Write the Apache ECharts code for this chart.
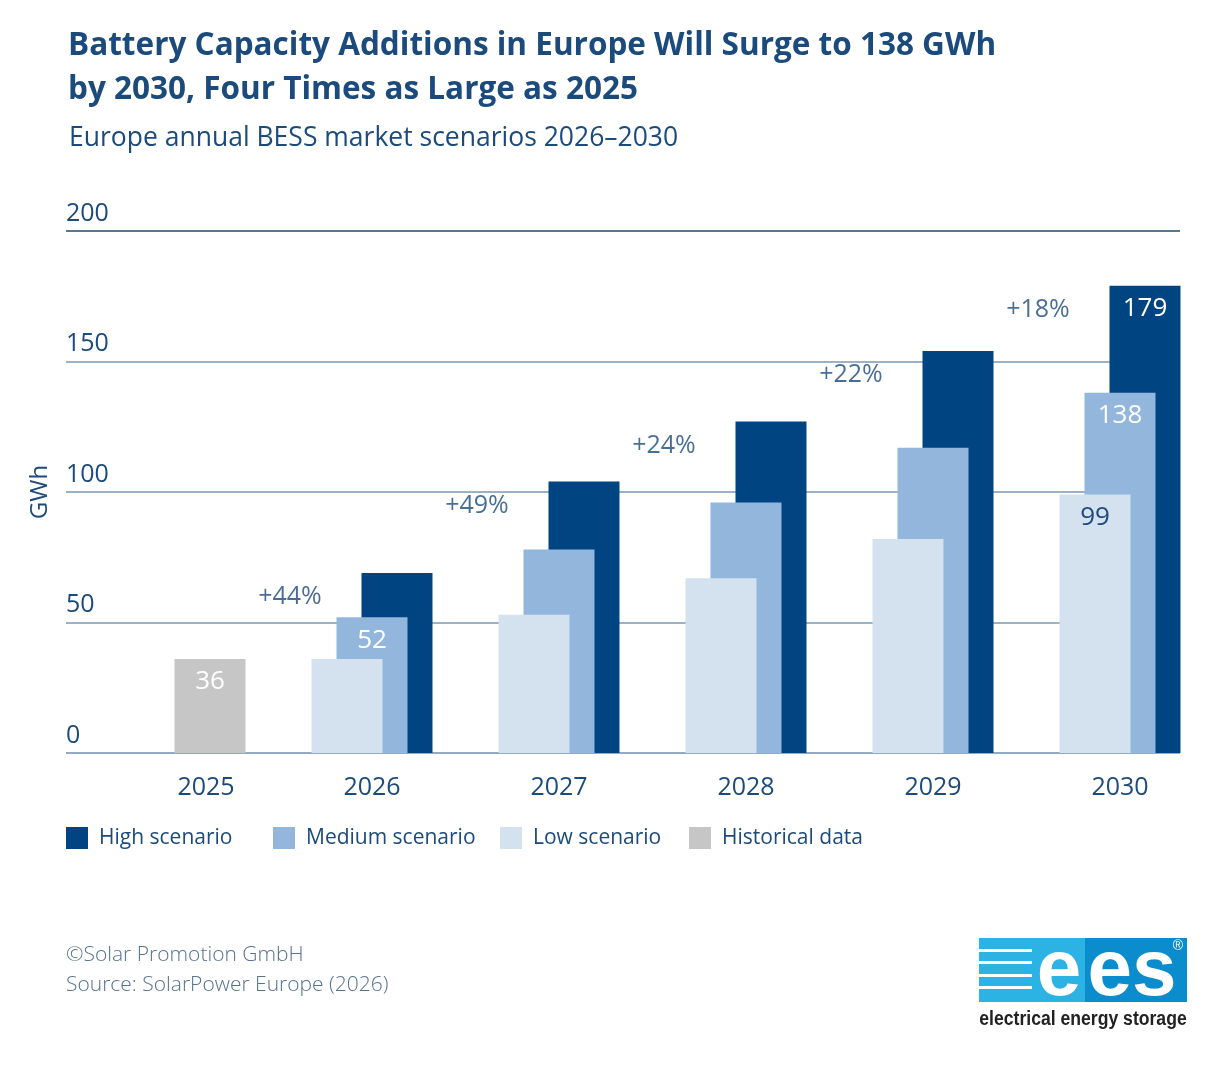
<!DOCTYPE html>
<html lang="en">
<head>
<meta charset="utf-8">
<title>Europe annual BESS market scenarios</title>
<script src="https://cdn.jsdelivr.net/npm/echarts@6/dist/echarts.min.js"></script>
<style>
  html, body { margin: 0; padding: 0; background: #fff; }
  #chart { width: 1227px; height: 1071px; }
</style>
</head>
<body>
<div id="chart"></div>
<script>
// values (GWh)
var years      = ['2025', '2026', '2027', '2028', '2029', '2030'];
var historical = [36, '-', '-', '-', '-', '-'];
var high       = ['-', 69, 104, 127, 154, 179];
var medium     = ['-', 52, 78, 96, 117, 138];
var low        = ['-', 36, 53, 67, 82, 99];
var growth     = ['', '+44%', '+49%', '+24%', '+22%', '+18%'];
var legendNames = ['High scenario', 'Medium scenario', 'Low scenario', 'Historical data'];

// which bars carry a value label
var shownHigh = [5], shownMedium = [1, 5], shownLow = [5], shownHist = [0];

var FONT = '"Open Sans", "Noto Sans", sans-serif';
var NAVY = '#1b4a7c';
var legendLeft = [66, 273, 500, 689];

function barLabel(shown, color) {
    return {
        show: true,
        position: 'insideTop',
        distance: 10,
        color: color,
        fontFamily: FONT,
        fontSize: 26,
        formatter: function (p) {
            return shown.indexOf(p.dataIndex) >= 0 ? String(p.value) : '';
        }
    };
}

var myChart = echarts.init(document.getElementById('chart'));

var option = {
    animation: false,
    backgroundColor: '#fff',
    title: [
        {
            text: 'Battery Capacity Additions in Europe Will Surge to 138 GWh\nby 2030, Four Times as Large as 2025',
            left: 63, top: 19,
            textStyle: { fontFamily: FONT, fontWeight: 'bold', fontSize: 31.5, lineHeight: 44, color: NAVY }
        },
        {
            text: 'Europe annual BESS market scenarios 2026\u20132030',
            left: 64, top: 120,
            textStyle: { fontFamily: FONT, fontWeight: 'normal', fontSize: 26.5, color: NAVY }
        }
    ],
    // one legend per item so each sits where the original puts it
    legend: legendNames.map(function (name, i) {
        return {
            left: legendLeft[i], top: 827,
            padding: 0,
            itemWidth: 22, itemHeight: 22,
            icon: 'rect',
            data: [name],
            textStyle: { fontFamily: FONT, fontSize: 21, color: NAVY, padding: [0, 0, 0, 6] }
        };
    }),
    grid: [
        // grid for the gridlines and y labels
        { left: 66, right: 47, top: 231, bottom: 318 },
        // grid for the bars (shifted so groups sit as in the original)
        { left: 91.5, right: 13.5, top: 231, bottom: 318 }
    ],
    xAxis: [
        { type: 'category', gridIndex: 0, data: years, show: false },
        {
            type: 'category', gridIndex: 1, data: years,
            axisLine: { show: false }, axisTick: { show: false },
            axisLabel: {
                margin: 22,
                fontFamily: FONT, fontSize: 25, color: NAVY,
                formatter: function (v) {
                    return v === '2025' ? '{s|' + v + '}' : v;
                },
                rich: { s: { fontFamily: FONT, fontSize: 25, color: NAVY, padding: [0, 0, 0, 42] } }
            }
        }
    ],
    yAxis: [
        {
            type: 'value', gridIndex: 0, min: 0, max: 200, interval: 50,
            name: 'GWh', nameLocation: 'middle', nameGap: 14, nameRotate: 90,
            nameTextStyle: { fontFamily: FONT, fontSize: 24, color: NAVY },
            axisLine: { show: false }, axisTick: { show: false },
            axisLabel: {
                inside: true, margin: 0, verticalAlign: 'bottom', padding: [0, 0, 5, 0],
                fontFamily: FONT, fontSize: 25, color: NAVY
            },
            splitLine: {
                lineStyle: { width: 1.5, color: ['#6f8eae', '#7a97b5', '#7a97b5', '#7a97b5', '#1d4a78'] }
            }
        },
        { type: 'value', gridIndex: 1, min: 0, max: 200, interval: 50, show: false, splitLine: { show: false } }
    ],
    series: [
        {
            name: 'Low scenario', type: 'bar', xAxisIndex: 1, yAxisIndex: 1,
            data: low, barWidth: 71, barGap: '-64.8%', z: 4,
            itemStyle: { color: '#d4e1ef' },
            label: barLabel(shownLow, '#1f4a7a')
        },
        {
            name: 'Medium scenario', type: 'bar', xAxisIndex: 1, yAxisIndex: 1,
            data: medium, barWidth: 71, barGap: '-64.8%', z: 3,
            itemStyle: { color: '#93b6dc' },
            label: barLabel(shownMedium, '#ffffff')
        },
        {
            name: 'High scenario', type: 'bar', xAxisIndex: 1, yAxisIndex: 1, stack: 'back',
            data: high, barWidth: 71, barGap: '-64.8%', z: 2,
            itemStyle: { color: '#004582' },
            label: barLabel(shownHigh, '#ffffff')
        },
        {
            name: 'Historical data', type: 'bar', xAxisIndex: 1, yAxisIndex: 1, stack: 'back',
            data: historical, barWidth: 71, barGap: '-64.8%', z: 2,
            itemStyle: { color: '#c6c6c6' },
            label: barLabel(shownHist, '#ffffff')
        },
        {
            // growth of the medium scenario, printed beside each high bar
            name: 'growth', type: 'scatter', xAxisIndex: 1, yAxisIndex: 1,
            data: high, symbolSize: 1, z: 5,
            itemStyle: { color: 'rgba(0,0,0,0)' },
            label: {
                show: true, position: 'inside', offset: [-82, 24],
                fontFamily: FONT, fontSize: 25, color: NAVY,
                formatter: function (p) { return growth[p.dataIndex]; }
            }
        }
    ],
    graphic: [
        {
            type: 'text', left: 66, top: 945,
            style: { text: '\u00a9Solar Promotion GmbH', fontFamily: FONT, fontWeight: 300, fontSize: 21, fill: '#56728f' }
        },
        {
            type: 'text', left: 66, top: 975,
            style: { text: 'Source: SolarPower Europe (2026)', fontFamily: FONT, fontWeight: 300, fontSize: 21, fill: '#56728f' }
        },
        {
            // ees logo
            type: 'group', x: 979, y: 938,
            children: [
                { type: 'rect', shape: { x: 0, y: 0, width: 106, height: 64 }, style: { fill: '#2cb3e4' } },
                { type: 'rect', shape: { x: 106, y: 0, width: 102, height: 64 }, style: { fill: '#0b8dcd' } },
                { type: 'rect', shape: { x: 0, y: 11, width: 53, height: 3 }, style: { fill: '#fff' } },
                { type: 'rect', shape: { x: 0, y: 23, width: 53, height: 3 }, style: { fill: '#fff' } },
                { type: 'rect', shape: { x: 0, y: 36, width: 53, height: 3 }, style: { fill: '#fff' } },
                { type: 'rect', shape: { x: 0, y: 48, width: 53, height: 3 }, style: { fill: '#fff' } },
                {
                    type: 'text', x: 80, y: 35,
                    style: { text: 'e', fontFamily: '"Liberation Sans", Arial', fontWeight: 'bold', fontSize: 80, fill: '#fff', align: 'center', verticalAlign: 'middle' }
                },
                {
                    type: 'text', x: 153, y: 35,
                    style: { text: 'es', fontFamily: '"Liberation Sans", Arial', fontWeight: 'bold', fontSize: 80, fill: '#fff', align: 'center', verticalAlign: 'middle' }
                },
                {
                    type: 'text', x: 199, y: 8,
                    style: { text: '\u00ae', fontFamily: '"Liberation Sans", Arial', fontSize: 14, fill: '#fff', align: 'center', verticalAlign: 'middle' }
                },
                {
                    type: 'text', x: 104, y: 81, scaleX: 0.88,
                    style: { text: 'electrical energy storage', fontFamily: '"Liberation Sans", Arial', fontWeight: 'bold', fontSize: 20, fill: '#222', align: 'center', verticalAlign: 'middle' }
                }
            ]
        }
    ]
};

myChart.setOption(option);
</script>
</body>
</html>
